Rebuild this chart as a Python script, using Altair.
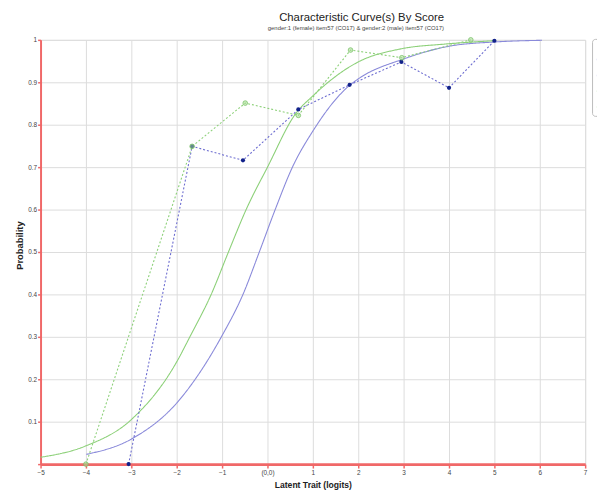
import altair as alt
import pandas as pd

FONT = "Liberation Sans, Arial, sans-serif"

# ---- data ----
series_names = [
    "Observed: gender:1 (female) item57 (CO17)",
    "Expected: gender:1 (female) item57 (CO17)",
    "Observed: gender:2 (male) item57 (CO17)",
    "Expected: gender:2 (male) item57 (CO17)",
]
series_colors = ["#6c6cd0", "#8a8ada", "#8cd078", "#8cd078"]
series_dash = [[2, 2], [1, 0], [2, 2], [1, 0]]

female_obs_x = [-3.06, -1.66, -0.54, 0.68, 1.81, 2.95, 4.0, 5.0]
female_obs_y = [0.0, 0.749, 0.716, 0.836, 0.894, 0.948, 0.887, 0.998]

male_obs_x = [-4.0, -1.66, -0.49, 0.68, 1.83, 2.96, 4.48]
male_obs_y = [0.0, 0.749, 0.851, 0.822, 0.976, 0.958, 1.0]

female_curve_x = [-3.99, -3.0, -2.0, -1.0, -0.54, -0.18, 0.17, 0.55, 1.0, 1.8, 2.0, 3.0, 4.0, 5.0, 6.05]
female_curve_y = [0.023, 0.059, 0.144, 0.303, 0.40, 0.50, 0.60, 0.70, 0.785, 0.892, 0.908, 0.955, 0.985, 0.995, 0.999]

male_curve_x = [-5.0, -4.0, -3.0, -2.0, -1.71, -1.24, -0.86, -0.47, 0.0, 0.62, 1.0, 2.0, 2.95, 3.9, 5.0]
male_curve_y = [0.016, 0.043, 0.105, 0.241, 0.30, 0.40, 0.50, 0.60, 0.70, 0.826, 0.868, 0.948, 0.979, 0.990, 0.998]

x_ticks = [-5, -4, -3, -2, -1, 0, 1, 2, 3, 4, 5, 6, 7]
y_ticks = [0, 0.1, 0.2, 0.3, 0.4, 0.5, 0.6, 0.7, 0.8, 0.9, 1.0]

# ---- tables ----
obs_df = pd.concat([
    pd.DataFrame({"x": female_obs_x, "y": female_obs_y, "series": series_names[0]}),
    pd.DataFrame({"x": male_obs_x, "y": male_obs_y, "series": series_names[2]}),
])
curve_df = pd.concat([
    pd.DataFrame({"x": female_curve_x, "y": female_curve_y, "series": series_names[1]}),
    pd.DataFrame({"x": male_curve_x, "y": male_curve_y, "series": series_names[3]}),
])
female_pts = pd.DataFrame({"x": female_obs_x, "y": female_obs_y})
male_pts = pd.DataFrame({"x": male_obs_x, "y": male_obs_y})

RED = "#f06868"

x_enc = alt.X(
    "x:Q",
    scale=alt.Scale(domain=[-5, 7], nice=False, zero=False),
    axis=alt.Axis(
        values=x_ticks,
        title="Latent Trait (logits)",
        labelExpr="datum.value == 0 ? '(0,0)' : datum.label",
        domainColor=RED, domainWidth=3,
        tickColor=RED, tickSize=4, tickWidth=1.5,
        gridColor="#dcdcdc", gridWidth=1,
        labelFont=FONT, labelFontSize=6.5, labelColor="#444", labelPadding=2,
        labelFlush=False, labelOverlap=False,
        titleFont=FONT, titleFontSize=8.7, titleFontWeight="bold", titleColor="#222",
        titleY=21, titleBaseline="middle",
    ),
)
y_enc = alt.Y(
    "y:Q",
    scale=alt.Scale(domain=[0, 1], nice=False),
    axis=alt.Axis(
        values=y_ticks,
        title="Probability",
        format="~g",
        labelExpr="datum.value == 0 ? '' : datum.label",
        domainColor=RED, domainWidth=2,
        tickColor=RED, tickSize=3, tickWidth=1.5,
        gridColor="#dcdcdc", gridWidth=1,
        labelFont=FONT, labelFontSize=6.5, labelColor="#444", labelPadding=1,
        labelFlush=False, labelOverlap=False,
        titleFont=FONT, titleFontSize=9.5, titleFontWeight="bold", titleColor="#222",
        titleX=-21, titleY=208, titleAngle=270, titleAlign="center", titleBaseline="middle",
    ),
)

# legend: only its left edge is inside the picture (its labels lie past the right edge)
legend = alt.Legend(
    title=" ", titleFontSize=8, titlePadding=2,
    orient="none", legendX=559, legendY=-1,
    symbolType="stroke", symbolSize=150, symbolStrokeWidth=1.5,
    labelExpr="''", labelFont=FONT, labelFontSize=10, rowPadding=4,
    padding=4, strokeColor="#bbbbbb", fillColor="white", cornerRadius=3,
)
color_enc = alt.Color("series:N", scale=alt.Scale(domain=series_names, range=series_colors), legend=legend)
dash_enc = alt.StrokeDash("series:N", scale=alt.Scale(domain=series_names, range=series_dash), legend=legend)

curves = alt.Chart(curve_df).mark_line(interpolate="monotone", strokeWidth=1.1).encode(
    x=x_enc, y=y_enc, color=color_enc, strokeDash=dash_enc
)
observed = alt.Chart(obs_df).mark_line(interpolate="linear", strokeWidth=1.1).encode(
    x=x_enc, y=y_enc, color=color_enc, strokeDash=dash_enc
)
blue_points = alt.Chart(female_pts).mark_point(
    filled=True, shape="circle", size=18, color="#12228a", opacity=1
).encode(x=x_enc, y=y_enc)
green_points = alt.Chart(male_pts).mark_point(
    filled=True, shape="circle", size=22, fill="#a6dc92", fillOpacity=0.55,
    stroke="#7cc26a", strokeWidth=0.8, opacity=1
).encode(x=x_enc, y=y_enc)

chart = alt.layer(curves, observed, blue_points, green_points).properties(
    width=552,
    height=430,
    autosize=alt.AutoSizeParams(type="none"),
    padding={"left": 33, "top": 29, "right": 12, "bottom": 28},
    title=alt.TitleParams(
        text="Characteristic Curve(s) By Score",
        subtitle="gender:1 (female) item57 (CO17) & gender:2 (male) item57 (CO17)",
        anchor="end", frame="group", dx=-143, offset=5,
        font=FONT, fontSize=11.5, fontWeight="normal", color="#222",
        subtitleFont=FONT, subtitleFontSize=6, subtitleColor="#444", subtitlePadding=2,
    ),
).configure_view(stroke=None).configure(background="white")

chart.save("out.html", embed_options={"renderer": "svg", "actions": False})
